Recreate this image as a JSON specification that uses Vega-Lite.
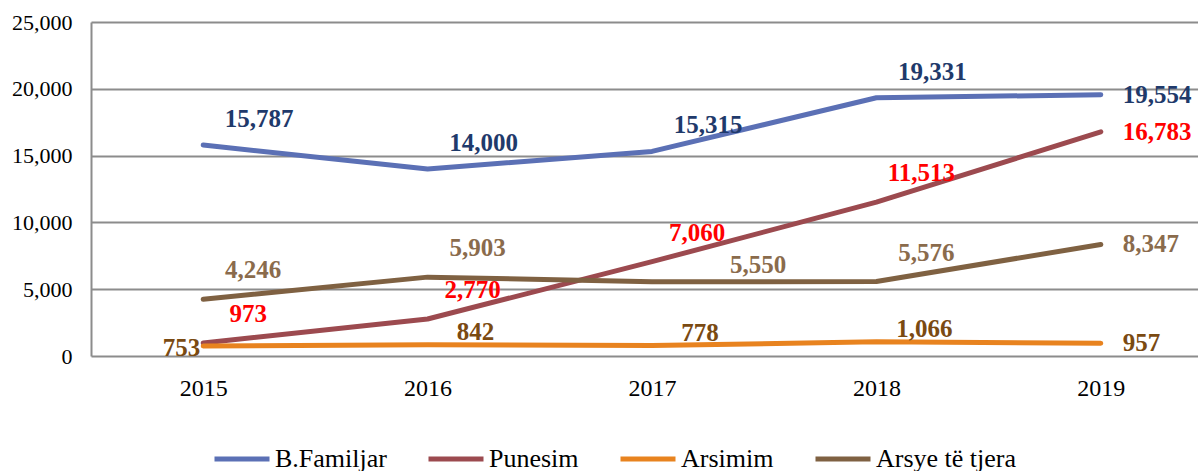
{
  "$schema": "https://vega.github.io/schema/vega-lite/v6.json",
  "autosize": "none",
  "padding": {"top": 22, "left": 91, "right": 0, "bottom": 115},
  "width": 1122,
  "height": 334,
  "background": "white",
  "config": {
    "font": "Liberation Serif",
    "view": {"stroke": null},
    "axis": {"labelFont": "Liberation Serif", "labelColor": "#000000"}
  },
  "data": {
    "values": [
      {"series": "B.Familjar", "year": "2015", "value": 15787},
      {"series": "B.Familjar", "year": "2016", "value": 14000},
      {"series": "B.Familjar", "year": "2017", "value": 15315},
      {"series": "B.Familjar", "year": "2018", "value": 19331},
      {"series": "B.Familjar", "year": "2019", "value": 19554},
      {"series": "Punesim", "year": "2015", "value": 973},
      {"series": "Punesim", "year": "2016", "value": 2770},
      {"series": "Punesim", "year": "2017", "value": 7060},
      {"series": "Punesim", "year": "2018", "value": 11513},
      {"series": "Punesim", "year": "2019", "value": 16783},
      {"series": "Arsimim", "year": "2015", "value": 753},
      {"series": "Arsimim", "year": "2016", "value": 842},
      {"series": "Arsimim", "year": "2017", "value": 778},
      {"series": "Arsimim", "year": "2018", "value": 1066},
      {"series": "Arsimim", "year": "2019", "value": 957},
      {"series": "Arsye të tjera", "year": "2015", "value": 4246},
      {"series": "Arsye të tjera", "year": "2016", "value": 5903},
      {"series": "Arsye të tjera", "year": "2017", "value": 5550},
      {"series": "Arsye të tjera", "year": "2018", "value": 5576},
      {"series": "Arsye të tjera", "year": "2019", "value": 8347}
    ]
  },
  "encoding": {
    "x": {
      "field": "year", "type": "ordinal", "title": null,
      "scale": {"type": "point", "padding": 0.5},
      "axis": {"labelAngle": 0, "domain": false, "ticks": false, "grid": false, "labelFontSize": 24, "labelPadding": 20}
    },
    "y": {
      "field": "value", "type": "quantitative", "title": null,
      "scale": {"domain": [0, 25000], "nice": false},
      "axis": {"values": [0, 5000, 10000, 15000, 20000, 25000], "labelExpr": "format(datum.value, ',')", "domain": true, "domainColor": "#8c8c8c", "domainWidth": 2, "ticks": false, "grid": true, "gridColor": "#8c8c8c", "gridWidth": 2, "gridOpacity": 1, "labelFontSize": 22, "labelPadding": 19}
    }
  },
  "layer": [
    {
      "mark": {"type": "line", "strokeWidth": 5, "strokeCap": "round", "strokeJoin": "round"},
      "encoding": {
        "stroke": {
          "field": "series", "type": "nominal",
          "scale": {"domain": ["B.Familjar", "Punesim", "Arsimim", "Arsye të tjera"], "range": ["#5B70B5", "#9C4A4F", "#E8831F", "#7F6142"]},
          "legend": {"title": null, "orient": "none", "direction": "horizontal", "legendX": 121, "legendY": 407, "symbolType": "stroke", "symbolSize": 3025, "symbolStrokeWidth": 5, "labelFontSize": 26, "labelFont": "Liberation Serif", "labelColor": "#000000", "columnPadding": 31, "labelOffset": 3}
        }
      }
    },
    {
      "transform": [{"filter": "datum.year != '2019' && datum.series == 'B.Familjar'"}],
      "mark": {"type": "text", "fontWeight": "bold", "fontSize": 25, "dx": 56, "dy": -26, "baseline": "middle"},
      "encoding": {"text": {"field": "value", "format": ","}, "fill": {"field": "series", "type": "nominal", "scale": {"domain": ["B.Familjar", "Punesim", "Arsimim", "Arsye të tjera"], "range": ["#1F3A6B", "#FF0000", "#7A4A12", "#8A6B4C"]}, "legend": null}}
    },
    {
      "transform": [{"filter": "datum.year != '2019' && datum.series == 'Punesim'"}],
      "mark": {"type": "text", "fontWeight": "bold", "fontSize": 25, "dx": 45, "dy": -29, "baseline": "middle"},
      "encoding": {"text": {"field": "value", "format": ","}, "fill": {"field": "series", "type": "nominal", "legend": null}}
    },
    {
      "transform": [{"filter": "datum.year != '2019' && datum.year != '2017' && datum.series == 'Arsye të tjera'"}],
      "mark": {"type": "text", "fontWeight": "bold", "fontSize": 25, "dx": 50, "dy": -29, "baseline": "middle"},
      "encoding": {"text": {"field": "value", "format": ","}, "fill": {"field": "series", "type": "nominal", "legend": null}}
    },
    {
      "transform": [{"filter": "datum.year == '2017' && datum.series == 'Arsye të tjera'"}],
      "mark": {"type": "text", "fontWeight": "bold", "fontSize": 25, "dx": 106, "dy": -17, "baseline": "middle"},
      "encoding": {"text": {"field": "value", "format": ","}, "fill": {"field": "series", "type": "nominal", "legend": null}}
    },
    {
      "transform": [{"filter": "datum.year != '2019' && datum.year != '2015' && datum.series == 'Arsimim'"}],
      "mark": {"type": "text", "fontWeight": "bold", "fontSize": 25, "dx": 48, "dy": -13, "baseline": "middle"},
      "encoding": {"text": {"field": "value", "format": ","}, "fill": {"field": "series", "type": "nominal", "legend": null}}
    },
    {
      "transform": [{"filter": "datum.year == '2015' && datum.series == 'Arsimim'"}],
      "mark": {"type": "text", "fontWeight": "bold", "fontSize": 25, "dx": -3, "dy": 2, "align": "right", "baseline": "middle"},
      "encoding": {"text": {"field": "value", "format": ","}, "fill": {"field": "series", "type": "nominal", "legend": null}}
    },
    {
      "transform": [{"filter": "datum.year == '2019'"}],
      "mark": {"type": "text", "fontWeight": "bold", "fontSize": 25, "dx": 22, "dy": 0, "align": "left", "baseline": "middle"},
      "encoding": {"text": {"field": "value", "format": ","}, "fill": {"field": "series", "type": "nominal", "legend": null}}
    }
  ]
}
